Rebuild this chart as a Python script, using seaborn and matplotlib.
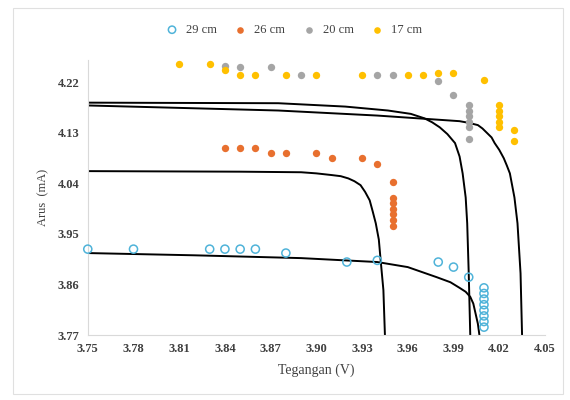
import matplotlib
matplotlib.use("Agg")
import matplotlib.pyplot as plt
import seaborn as sb
import pandas as pd
from matplotlib.patches import Rectangle

# measured points (Tegangan V, Arus mA)
v29 = [3.75, 3.78, 3.83, 3.84, 3.85, 3.86, 3.88, 3.92, 3.94, 3.98, 3.99, 4.00,
       4.01, 4.01, 4.01, 4.01, 4.01, 4.01, 4.01, 4.01]
i29 = [3.923, 3.923, 3.923, 3.923, 3.923, 3.923, 3.916, 3.900, 3.903, 3.900, 3.891, 3.873,
       3.854, 3.844, 3.834, 3.824, 3.814, 3.804, 3.794, 3.784]

v26 = [3.84, 3.85, 3.86, 3.87, 3.88, 3.90, 3.91, 3.93, 3.94,
       3.95, 3.95, 3.95, 3.95, 3.95, 3.95, 3.95]
i26 = [4.104, 4.104, 4.104, 4.094, 4.094, 4.094, 4.085, 4.085, 4.074,
       4.042, 4.015, 4.005, 3.995, 3.985, 3.975, 3.965]

v20 = [3.84, 3.85, 3.87, 3.89, 3.94, 3.95, 3.98, 3.99,
       4.00, 4.00, 4.00, 4.00, 4.00, 4.00]
i20 = [4.250, 4.247, 4.247, 4.234, 4.234, 4.234, 4.222, 4.197,
       4.180, 4.170, 4.160, 4.150, 4.140, 4.120]

v17 = [3.81, 3.83, 3.84, 3.85, 3.86, 3.88, 3.90, 3.93, 3.96, 3.97, 3.98, 3.99, 4.01,
       4.02, 4.02, 4.02, 4.02, 4.02, 4.03, 4.03]
i17 = [4.252, 4.252, 4.242, 4.233, 4.234, 4.234, 4.234, 4.234, 4.234, 4.234, 4.236, 4.236, 4.225,
       4.180, 4.170, 4.160, 4.150, 4.140, 4.135, 4.115]

# fitted model curves
fitV29 = [3.75, 3.82, 3.89, 3.94, 3.96, 3.979, 3.988, 3.994, 3.998, 4.001, 4.003, 4.004, 4.006, 4.007]
fitI29 = [3.916, 3.912, 3.907, 3.900, 3.891, 3.873, 3.864, 3.854, 3.847, 3.838, 3.826, 3.814, 3.790, 3.770]

fitV26 = [3.75, 3.85, 3.89, 3.90, 3.91, 3.916, 3.921, 3.925, 3.929, 3.932, 3.935, 3.937, 3.939, 3.941,
          3.942, 3.944, 3.945]
fitI26 = [4.062, 4.061, 4.060, 4.058, 4.055, 4.053, 4.049, 4.044, 4.037, 4.025, 4.010, 3.990, 3.969, 3.940,
          3.909, 3.850, 3.770]

fitV20 = [3.75, 3.875, 3.919, 3.947, 3.962, 3.971, 3.976, 3.981, 3.986, 3.991, 3.994, 3.996, 3.998,
          3.999, 4.000, 4.001]
fitI20 = [4.184, 4.183, 4.177, 4.170, 4.164, 4.156, 4.149, 4.140, 4.128, 4.112, 4.088, 4.058, 4.015,
          3.969, 3.880, 3.770]

fitV17 = [3.75, 3.875, 3.94, 3.994, 4.000, 4.006, 4.009, 4.012, 4.015, 4.017, 4.020, 4.023, 4.025,
          4.027, 4.030, 4.032, 4.034, 4.035]
fitI17 = [4.179, 4.170, 4.161, 4.151, 4.148, 4.144, 4.138, 4.130, 4.122, 4.112, 4.100, 4.085, 4.072,
          4.058, 4.015, 3.969, 3.880, 3.770]

labels = ["29 cm", "26 cm", "20 cm", "17 cm"]
colors = {"29 cm": "#4FB3D9", "26 cm": "#E8702F", "20 cm": "#A5A5A5", "17 cm": "#FFC000"}

if __name__ == '__main__':
    sb.set_style("white")
    plt.rcParams['font.family'] = ['Liberation Serif', 'DejaVu Serif']

    fig = plt.figure(figsize=(5.7, 4.0), dpi=100)
    ax = fig.add_axes([0.154, 0.1625, 0.802, 0.6875])

    fits = [(fitV29, fitI29), (fitV26, fitI26), (fitV20, fitI20), (fitV17, fitI17)]
    for fv, fi in fits:
        dfFit = pd.DataFrame({"V": fv, "I": fi})
        sb.lineplot(data=dfFit, x="V", y="I", sort=False, color="black", linewidth=1.4, ax=ax, zorder=2)

    series = [(v29, i29), (v26, i26), (v20, i20), (v17, i17)]
    for lab, (vv, ii) in zip(labels, series):
        df = pd.DataFrame({"V": vv, "I": ii})
        if lab == "29 cm":
            pts = sb.scatterplot(data=df, x="V", y="I", ax=ax, marker="o", s=34, facecolors="none",
                                 edgecolor=colors[lab], linewidth=1.1, label=lab, zorder=3)
        else:
            pts = sb.scatterplot(data=df, x="V", y="I", ax=ax, marker="o", s=28, color=colors[lab],
                                 edgecolor=colors[lab], linewidth=0, label=lab, zorder=3)
    for coll in ax.collections:
        coll.set_clip_on(False)

    ax.set_xlim(3.75, 4.05)
    ax.set_ylim(3.77, 4.26)
    xt = [3.75, 3.78, 3.81, 3.84, 3.87, 3.90, 3.93, 3.96, 3.99, 4.02, 4.05]
    yt = [3.77, 3.86, 3.95, 4.04, 4.13, 4.22]
    ax.set_xticks(xt)
    ax.set_xticklabels(["%.2f" % t for t in xt], fontsize=9, fontweight="bold", color="#404040")
    ax.set_yticks(yt)
    ax.set_yticklabels(["%.2f" % t for t in yt], fontsize=9, fontweight="bold", color="#404040")
    ax.tick_params(length=0, pad=6)
    ax.set_xlabel("Tegangan (V)", fontsize=10, color="#404040", labelpad=6)
    ax.set_ylabel("Arus  (mA)", fontsize=9, color="#404040", labelpad=6)
    for side in ["top", "right"]:
        ax.spines[side].set_visible(False)
    for side in ["left", "bottom"]:
        ax.spines[side].set_color("#D9D9D9")
        ax.spines[side].set_linewidth(0.8)

    h, l = ax.get_legend_handles_labels()
    ax.legend(h[-4:], l[-4:], loc="center", bbox_to_anchor=(0.51, 0.925), bbox_transform=fig.transFigure,
              ncol=4, frameon=False, fontsize=9, handletextpad=0.1, columnspacing=0.9,
              markerscale=0.9, labelcolor="#404040")

    fig.patches.append(Rectangle((0.023, 0.015), 0.965, 0.965, transform=fig.transFigure,
                                 fill=False, edgecolor="#E0E0E0", linewidth=0.8))
    fig.savefig("out.png", dpi=100)
